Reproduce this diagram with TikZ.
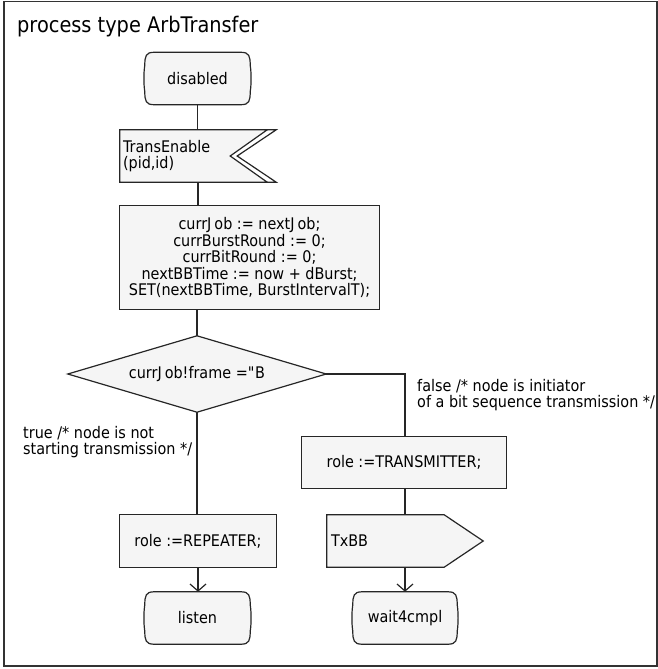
\documentclass[tikz,border=0pt]{standalone}
\usepackage{fontspec}
\setmainfont{DejaVu Sans}[FakeStretch=0.9]
\usetikzlibrary{arrows.meta,backgrounds}

\tikzset{
  sym/.style={draw=none, inner sep=0pt, font=\fontsize{16}{16.5}\selectfont},
  outline/.style={draw=black!85, line width=1.2pt, fill=black!4, line join=miter},
  flow/.style={draw=black!85, line width=1.2pt},
  arr/.style={flow, -{Straight Barb[length=7pt,width=16pt,line width=1.2pt]}},
  note/.style={anchor=north west, inner sep=0pt, align=left,
               font=\fontsize{16}{16.5}\selectfont},
}

% SDL state symbol: straight top and bottom, bowed rounded sides
\newcommand\stateoutline[1]{%
  \path[outline] ([xshift=9pt]#1.north west) -- ([xshift=-9pt]#1.north east)
    .. controls ([xshift=-1pt]#1.north east) and ([shift={(0,4)}]#1.north east) .. ([shift={(0,13)}]#1.north east)
    .. controls ([shift={(1.2,20)}]#1.north east) and ([shift={(1.2,-20)}]#1.south east) .. ([shift={(0,-13)}]#1.south east)
    .. controls ([shift={(0,-4)}]#1.south east) and ([xshift=-1pt]#1.south east) .. ([xshift=-9pt]#1.south east)
    -- ([xshift=9pt]#1.south west)
    .. controls ([xshift=1pt]#1.south west) and ([shift={(0,-4)}]#1.south west) .. ([shift={(0,-13)}]#1.south west)
    .. controls ([shift={(-1.2,-20)}]#1.south west) and ([shift={(-1.2,20)}]#1.north west) .. ([shift={(0,13)}]#1.north west)
    .. controls ([shift={(0,4)}]#1.north west) and ([xshift=1pt]#1.north west) .. ([xshift=9pt]#1.north west)
    -- cycle;}

\begin{document}
\begin{tikzpicture}[x=1pt,y=-1pt]
\useasboundingbox (0,0) rectangle (658,669);
\draw[line width=1.5pt, draw=black!80] (4,1.5) rectangle (657,666);

\node[anchor=base west, inner sep=0pt, font=\fontsize{21.5}{24}\selectfont] (title) at (17,33) {process type ArbTransfer};

% symbols (text holders; outlines are drawn on the background layer)
\node[sym, minimum width=105pt, minimum height=52pt] (disabled) at (197.5,78.5) {disabled};
\node[sym, text width=150pt, inner xsep=3pt, minimum height=52pt, align=left] (input) at (198,156)
  {TransEnable\\(pid,id)};
\node[sym, minimum width=259pt, minimum height=103pt, align=center] (task) at (249.5,257.5)
  {currJ\kern3pt ob := nextJ\kern3pt ob;\\currBurstRound := 0;\\currBitRound := 0;\\nextBBTime := now + dBurst;\\SET(nextBBTime, BurstIntervalT);};
\node[sym, minimum width=258pt, minimum height=76pt] (decision) at (197,374) {currJ\kern3pt ob!frame =\textquotedbl B};
\node[sym, minimum width=204pt, minimum height=51pt] (tx) at (404,462.5) {role :=TRANSMITTER;};
\node[sym, minimum width=156pt, minimum height=52pt] (rep) at (198,541) {role :=REPEATER;};
\node[sym, text width=148pt, inner xsep=4pt, minimum height=52pt, align=left] (txbb) at (405,541) {TxBB};
\node[sym, minimum width=105pt, minimum height=52pt] (listen) at (197.5,618) {listen};
\node[sym, minimum width=104pt, minimum height=52pt] (wait) at (405,618) {wait4cmpl};

\begin{pgfonlayer}{background}
  \stateoutline{disabled}
  \stateoutline{listen}
  \stateoutline{wait}
  % input symbol with doubled notch
  \path[outline] (input.north west) -- ([xshift=-9pt]input.north east) -- ([xshift=-46pt]input.east)
    -- ([xshift=-9pt]input.south east) -- (input.south west) -- cycle;
  \draw[flow, line join=miter] ([xshift=-9pt]input.north east) -- (input.north east) -- ([xshift=-39pt]input.east)
    -- (input.south east) -- ([xshift=-9pt]input.south east);
  \path[outline] (task.north west) rectangle (task.south east);
  \path[outline] (decision.west) -- (decision.north) -- (decision.east) -- (decision.south) -- cycle;
  \path[outline] (tx.north west) rectangle (tx.south east);
  \path[outline] (rep.north west) rectangle (rep.south east);
  % output symbol
  \path[outline] (txbb.north west) -- ([xshift=-39pt]txbb.north east) -- (txbb.east)
    -- ([xshift=-39pt]txbb.south east) -- (txbb.south west) -- cycle;
\end{pgfonlayer}

% connectors
\draw[flow] (disabled.south) -- (disabled.south |- input.north);
\draw[flow] (input.south) -- (input.south |- task.north);
\draw[flow] (decision.north |- task.south) -- (decision.north);
\draw[flow] (decision.east) -| (txbb.north |- tx.north);
\draw[flow] (decision.south) -- (decision.south |- rep.north);
\draw[flow] (txbb.north |- tx.south) -- (txbb.north);
\draw[arr] (rep.south) -- (rep.south |- listen.north);
\draw[arr] (txbb.south) -- (wait.north);

% branch annotations
\node[note] (falsenote) at (417,379) {false /* node is initiator\\of a bit sequence transmission */};
\node[note] (truenote) at (23,426) {true /* node is not\\starting transmission */};
\end{tikzpicture}
\end{document}
